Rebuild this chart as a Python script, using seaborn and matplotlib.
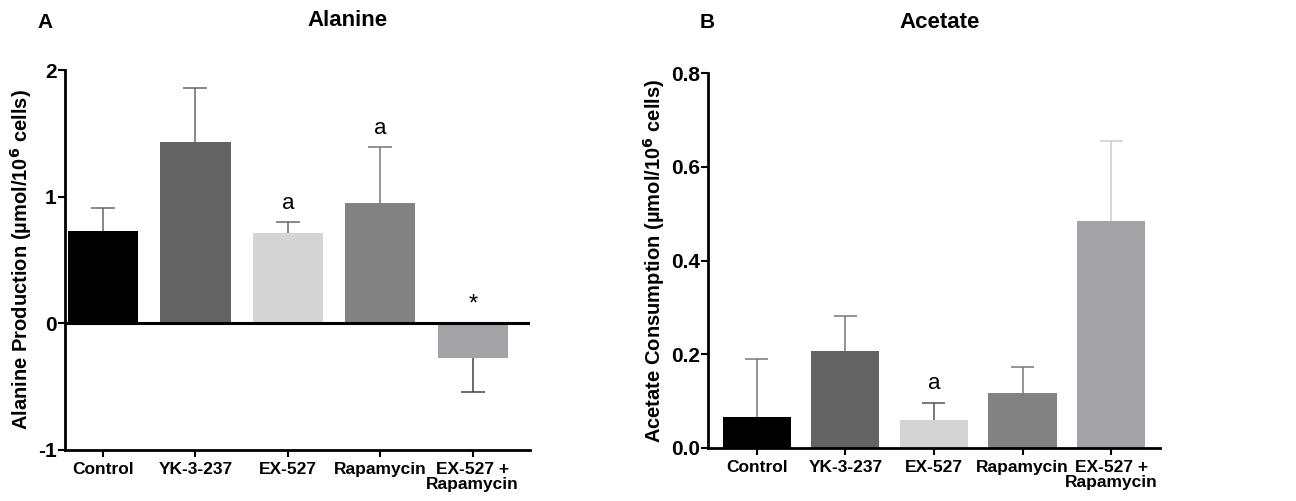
import matplotlib
matplotlib.use("Agg")
import matplotlib.pyplot as plt
import seaborn as sns
import pandas as pd

categories = ["Control", "YK-3-237", "EX-527", "Rapamycin", "EX-527 +\nRapamycin"]
bar_colors = ["#000000", "#636363", "#d4d4d4", "#828282", "#a3a3a7"]

alanine_mean = [0.73, 1.43, 0.71, 0.95, -0.27]
alanine_err = [0.18, 0.43, 0.09, 0.44, 0.27]
alanine_marks = ["", "", "a", "a", "*"]

acetate_mean = [0.066, 0.206, 0.060, 0.117, 0.485]
acetate_err = [0.123, 0.075, 0.036, 0.055, 0.170]
acetate_marks = ["", "", "a", "", ""]

sns.set_theme(style="ticks")
plt.rcParams["font.family"] = ["Liberation Sans", "DejaVu Sans"]
plt.rcParams["text.color"] = "black"
plt.rcParams["axes.labelcolor"] = "black"
plt.rcParams["xtick.color"] = "black"
plt.rcParams["ytick.color"] = "black"

fig = plt.figure(figsize=(12.96, 5.01), dpi=100)
axA = fig.add_axes([0.0502, 0.1018, 0.3588, 0.7584])
axB = fig.add_axes([0.5463, 0.1058, 0.3487, 0.7482])


def panel(ax, means, errs, marks, ylim, yticks, yticklabels, ylabel,
          xlim, width, mark_off, err_colors, zero_line=False):
    df = pd.DataFrame({"cat": categories, "val": means})
    sns.barplot(data=df, x="cat", y="val", hue="cat", palette=bar_colors,
                order=categories, width=width, legend=False, ax=ax,
                saturation=1, edgecolor="none", linewidth=0)
    for p, m, e, mk, ec in zip(ax.patches, means, errs, marks, err_colors):
        cx = p.get_x() + p.get_width() / 2
        cap = 0.13
        end = m + e if m >= 0 else m - e
        ax.vlines(cx, m, end, colors=ec, lw=1.1, zorder=1)
        ax.hlines(end, cx - cap, cx + cap, colors=ec, lw=1.1, zorder=1)
        top = end if m >= 0 else 0
        if mk:
            ax.text(cx, top + mark_off, mk, ha="center", va="center",
                    fontsize=16 if mk != "*" else 17, color="black")
    ax.set_ylim(*ylim)
    ax.set_xlim(*xlim)
    ax.set_yticks(yticks)
    ax.set_yticklabels(yticklabels, fontsize=15, fontweight="bold")
    ax.set_xticks(range(len(categories)))
    ax.set_xticklabels(categories, fontsize=12.5, fontweight="bold", linespacing=1.0)
    ax.set_xlabel("")
    ax.set_ylabel(ylabel, fontsize=14.5, fontweight="bold", labelpad=3)
    for s in ["top", "right"]:
        ax.spines[s].set_visible(False)
    for s in ["left", "bottom"]:
        ax.spines[s].set_linewidth(2)
        ax.spines[s].set_color("black")
    ax.tick_params(axis="both", direction="out", length=5, width=1.5, color="black", pad=4)
    ax.tick_params(axis="y", pad=1)
    if zero_line:
        ax.axhline(0, color="black", lw=2.2, zorder=3)


panel(axA, alanine_mean, alanine_err, alanine_marks, (-1, 2), [-1, 0, 1, 2],
      ["-1", "0", "1", "2"], "Alanine Production (µmol/10$^\\mathbf{6}$ cells)",
      (-0.41, 4.62), 0.76, 0.15,
      ["#666666", "#666666", "#666666", "#777777", "#444444"], zero_line=True)
panel(axB, acetate_mean, acetate_err, acetate_marks, (0, 0.8), [0.0, 0.2, 0.4, 0.6, 0.8],
      ["0.0", "0.2", "0.4", "0.6", "0.8"], "Acetate Consumption (µmol/10$^\\mathbf{6}$ cells)",
      (-0.55, 4.55), 0.77, 0.042,
      ["#777777", "#777777", "#555555", "#777777", "#cccccc"])

W, H = 1296, 501
fig.text(45 / W, 1 - 22 / H, "A", fontsize=15, fontweight="bold", ha="center", va="center")
fig.text(347 / W, 1 - 20 / H, "Alanine", fontsize=16, fontweight="bold", ha="center", va="center")
fig.text(707 / W, 1 - 22 / H, "B", fontsize=15, fontweight="bold", ha="center", va="center")
fig.text(940 / W, 1 - 22 / H, "Acetate", fontsize=16, fontweight="bold", ha="center", va="center")

fig.savefig("out.png", dpi=100)
